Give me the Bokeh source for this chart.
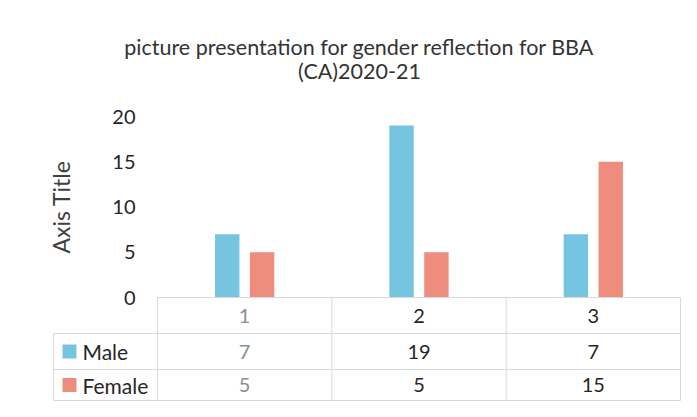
import math
from bokeh.plotting import figure
from bokeh.models import ColumnDataSource, Range1d
from bokeh.core.properties import value
from bokeh.embed import file_html
from bokeh.resources import INLINE

# ---------------- data ----------------
title_lines = ["picture presentation for gender reflection for BBA", "(CA)2020-21"]
categories = ["1", "2", "3"]
male = [7, 19, 7]
female = [5, 5, 15]
series_names = ["Male", "Female"]
y_ticks = [0, 5, 10, 15, 20]
y_axis_title = "Axis Title"

# ---------------- style / layout (pixels in the figure) ----------------
FONT = "Lato"
W, H = 681, 401
PL, PR = 157, 680          # plot area left / right
PY0, PYMAX = 297, 116      # pixel of value 0 / of the top tick
ROW_PX = [297, 333, 369, 400]   # table row boundaries
LEG_L = 53                 # legend column left edge
TICK_R = 135               # right edge of tick labels
AXT_X = 60                 # axis title centre
TITLE_X = 359
TITLE_Y = [46, 70]

male_color = "#76c5e0"
female_color = "#ee8c7d"
line_color = "#d9d9d9"
text_color = "#262626"
dim_color = "#83928f"

n = len(categories)
col_w = (PR - PL) / n
ppu = (PY0 - PYMAX) / max(y_ticks)


def X(px):
    return (px - PL) / col_w


def Y(py):
    return (PY0 - py) / ppu


p = figure(width=W, height=H,
           x_range=Range1d(X(0), X(W)), y_range=Range1d(Y(H), Y(0)),
           x_axis_location=None, y_axis_location=None,
           output_backend="svg", toolbar_location=None, min_border=0)
p.outline_line_color = None
p.xgrid.visible = False
p.ygrid.visible = False

# ---- bars ----
xc = [i + 0.5 for i in range(n)]
src = ColumnDataSource(dict(xm=[x - 0.1 for x in xc], xf=[x + 0.1 for x in xc],
                            male=male, female=female))
p.vbar(x="xm", top="male", bottom=0, width=0.14, source=src,
       fill_color=male_color, line_color=None)
p.vbar(x="xf", top="female", bottom=0, width=0.14, source=src,
       fill_color=female_color, line_color=None)

# ---- y tick labels and axis title ----
p.text(x=[X(TICK_R)] * len(y_ticks), y=y_ticks, text=[str(t) for t in y_ticks],
       text_align="right", text_baseline="middle", text_color=text_color,
       text_font=value(FONT), text_font_size="20px")
p.text(x=[X(AXT_X)], y=[(min(y_ticks) + max(y_ticks)) / 2], text=[y_axis_title],
       angle=math.pi / 2, text_align="center", text_baseline="middle",
       text_color="#404040", text_font=value(FONT), text_font_size="23px")

# ---- title ----
p.text(x=[X(TITLE_X)] * 2, y=[Y(v) for v in TITLE_Y], text=title_lines,
       text_align="center", text_baseline="middle", text_color="#333333",
       text_font=value(FONT), text_font_size="21.5px")

# ---- data table ----
ry = [Y(v) for v in ROW_PX]
leg = X(LEG_L)
hx0 = [0, leg, leg, leg]
hx1 = [n] * 4
p.segment(x0=hx0, y0=ry, x1=hx1, y1=ry, line_color=line_color, line_width=1)
vx = [leg] + list(range(n + 1))
vy0 = [ry[1]] + [ry[0]] * (n + 1)
vy1 = [ry[3]] * (n + 2)
p.segment(x0=vx, y0=vy0, x1=vx, y1=vy1, line_color=line_color, line_width=1)

rc = [(ry[k] + ry[k + 1]) / 2 for k in range(3)]
xs, ys, txt, cols = [], [], [], []
for i, c in enumerate(categories):
    colr = dim_color if i == 0 else text_color
    for r, v in enumerate([c, male[i], female[i]]):
        xs.append(i + 0.5)
        ys.append(rc[r])
        txt.append(str(v))
        cols.append(colr)
p.text(x=xs, y=ys, text=txt, text_color=cols, text_align="center",
       text_baseline="middle", text_font=value(FONT), text_font_size="20px")

p.scatter(x=[X(LEG_L + 16)] * 2, y=rc[1:], marker="square", size=14,
          fill_color=[male_color, female_color], line_color=None)
p.text(x=[X(LEG_L + 29)] * 2, y=rc[1:], text=series_names,
       text_color=text_color, text_align="left", text_baseline="middle",
       text_font=value(FONT), text_font_size="21px")

open("out.html", "w").write(file_html(p, INLINE))
